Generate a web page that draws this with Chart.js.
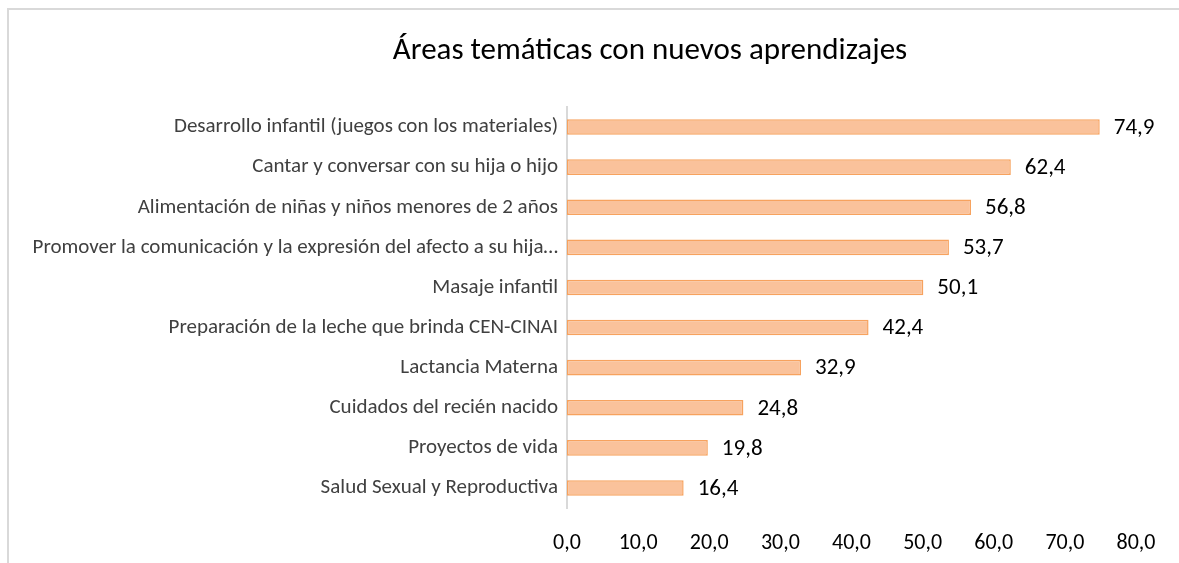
<!DOCTYPE html>
<html>
<head>
<meta charset="utf-8">
<script src="https://cdn.jsdelivr.net/npm/chart.js@4/dist/chart.umd.min.js"></script>
<style>
  html, body { margin:0; padding:0; background:#fff; }
  #wrap { position:relative; width:1179px; height:563px; overflow:hidden; }
  #marco { position:absolute; left:7px; top:8px; width:1200px; height:600px;
           border-top:2px solid #d9d9d9; border-left:2px solid #d9d9d9; box-sizing:border-box; }
  #Chart1 { position:absolute; left:0; top:0; }
</style>
</head>
<body>
<div id="wrap">
  <div id="marco"></div>
  <canvas id="Chart1" width="1179" height="563"></canvas>
</div>
<script>
let titulo = "Áreas temáticas con nuevos aprendizajes"
let categorias = [
    "Desarrollo infantil (juegos con los materiales)",
    "Cantar y conversar con su hija o hijo",
    "Alimentación de niñas y niños menores de 2 años",
    "Promover la comunicación y la expresión del afecto a su hija…",
    "Masaje infantil",
    "Preparación de la leche que brinda CEN-CINAI",
    "Lactancia Materna",
    "Cuidados del recién nacido",
    "Proyectos de vida",
    "Salud Sexual y Reproductiva"
]
let valores = [74.9, 62.4, 56.8, 53.7, 50.1, 42.4, 32.9, 24.8, 19.8, 16.4]
let ejeMin = 0
let ejeMax = 80
let ejePaso = 10

let fuente = "Carlito, Lato, 'Open Sans', sans-serif"

// formato con coma decimal
function coma(v){
    return Number(v).toFixed(1).replace(".", ",")
}

// titulo y etiquetas de datos dibujados a mano (no hay datalabels)
const etiquetas = {
    id: "etiquetas",
    afterDatasetsDraw(chart){
        const ctx = chart.ctx
        ctx.save()
        ctx.fillStyle = "#000"
        ctx.font = "23px " + fuente
        ctx.textBaseline = "middle"
        ctx.textAlign = "left"
        chart.getDatasetMeta(0).data.forEach((bar, i) => {
            ctx.fillText(coma(valores[i]), bar.x + 14, bar.y + 1)
        })
        ctx.font = "31px " + fuente
        ctx.textAlign = "center"
        ctx.fillText(titulo, 650, 51)
        ctx.restore()
    }
}

function crearTabla(){
    new Chart(document.getElementById("Chart1"), {
        type: "bar",
        data: {
            labels: categorias,
            datasets: [{
                data: valores,
                backgroundColor: "#FAC29B",
                borderColor: "#F7A25E",
                borderWidth: 1.5,
                borderSkipped: false,
                barPercentage: 0.39,
                categoryPercentage: 1
            }]
        },
        options: {
            indexAxis: "y",
            responsive: false,
            animation: false,
            layout: { padding: { left: 0, right: 43, top: 107, bottom: 0 } },
            plugins: {
                legend: { display: false },
                tooltip: { enabled: false },
                title: { display: false }
            },
            scales: {
                x: {
                    min: ejeMin,
                    max: ejeMax,
                    grid: { display: false, drawTicks: false },
                    border: { display: false },
                    ticks: {
                        stepSize: ejePaso,
                        color: "#000",
                        padding: 22,
                        font: { family: fuente, size: 22 },
                        callback: (v) => coma(v)
                    },
                    afterFit: (s) => { s.height = 55 }
                },
                y: {
                    grid: { display: false, drawTicks: false },
                    border: { display: true, color: "#d9d9d9", width: 2 },
                    ticks: {
                        color: "#404040",
                        padding: 9,
                        autoSkip: false,
                        font: { family: fuente, size: 21 }
                    },
                    afterFit: (s) => { s.width = 567 }
                }
            }
        },
        plugins: [etiquetas]
    })
}

document.addEventListener("DOMContentLoaded", () => {
    crearTabla()
})
</script>
</body>
</html>
